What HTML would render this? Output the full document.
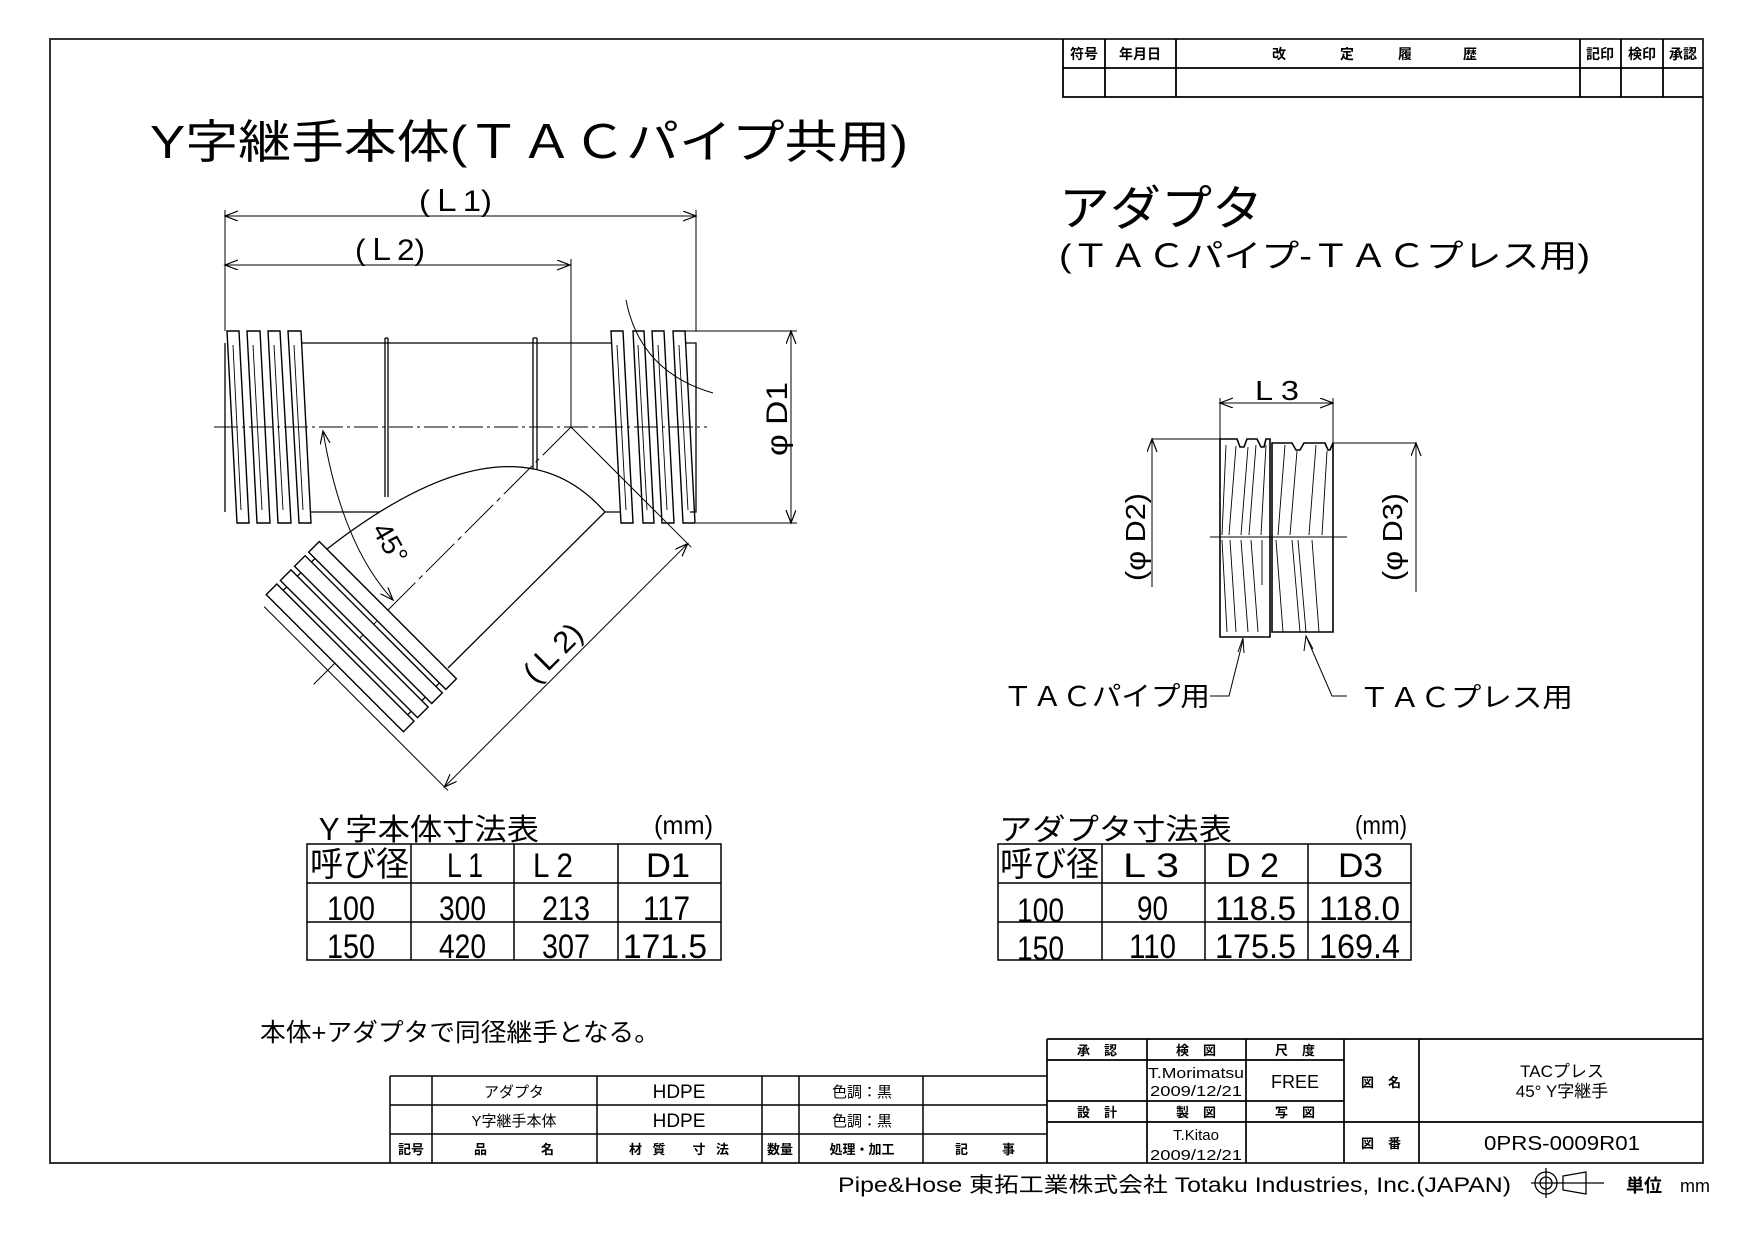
<!DOCTYPE html>
<html><head><meta charset="utf-8"><style>
html,body{margin:0;padding:0;background:#fff;}
svg{display:block;}
text{font-family:"Liberation Sans","Noto Sans CJK JP",sans-serif;fill:#000;}
</style></head><body>
<svg width="1754" height="1239" viewBox="0 0 1754 1239" xmlns="http://www.w3.org/2000/svg">
<defs>
<marker id="ar" markerUnits="userSpaceOnUse" markerWidth="16" markerHeight="12" refX="13" refY="5" orient="auto-start-reverse" viewBox="0 0 16 12">
<path d="M0,0 L13,5 L0,10" fill="none" stroke="#000" stroke-width="1.2"/>
</marker>
</defs>
<g fill="none" stroke="#000" stroke-width="1.3">
<path d="M50,39 H1703 V1163 H50 Z" stroke="#333" stroke-width="2"/>
<path d="M1063,39 V97 H1703 M1063,68 H1703 M1105,39 V97 M1176,39 V97 M1580,39 V97 M1621,39 V97 M1663,39 V97" stroke-width="1.8"/>

<line x1="225" y1="216" x2="696" y2="216" marker-start="url(#ar)" marker-end="url(#ar)" stroke-width="1"/>
<line x1="225" y1="265" x2="570" y2="265" marker-start="url(#ar)" marker-end="url(#ar)" stroke-width="1"/>
<path d="M225,210 V331 M571,259 V427 M696,210 V331" stroke-width="1"/>
<path d="M685,331 H797 M696,523 H797" stroke-width="1"/>
<line x1="791" y1="331" x2="791" y2="523" marker-start="url(#ar)" marker-end="url(#ar)" stroke-width="1"/>

<path d="M225,343 V512 M301,343 H611 M311,512 H621 M685,343 H696 V512 H690"/>
<path d="M385,338 V497 M388,338 V497 M385,338 H388 M533,338 V473 M537,338 V473 M533,338 H537"/>
<g stroke-width="1.4">
<polygon points="227,331 239,331 249,523 237,523"/>
<polygon points="247,331 260,331 270,523 257,523"/>
<polygon points="268,331 280,331 291,523 278,523"/>
<polygon points="288,331 301,331 311,523 299,523"/>
<polygon points="611,331 623,331 633,523 621,523"/>
<polygon points="633,331 644,331 654,523 643,523"/>
<polygon points="652,331 664,331 674,523 662,523"/>
<polygon points="673,331 685,331 695,523 683,523"/>
</g>
<path d="M233,345 L241,510 M253,345 L262,510 M274,345 L283,510 M294,345 L303,510 M617,345 L626,510 M638,345 L647,510 M658,345 L667,510 M679,345 L688,510" stroke-width="0.9"/>
<path d="M626,300 Q640,372 713,393" stroke-width="1"/>
<line x1="214" y1="427" x2="707" y2="427" stroke-dasharray="24,4,3,4" stroke-width="1"/>

<path d="M322,553 Q510,404 605,512 L448,668 L322,553 Z" fill="#fff" stroke="none"/>
<path d="M322,553 Q510,404 605,512 L448,668"/>
<g transform="translate(571,427) rotate(45)">
<line x1="0" y1="0" x2="0" y2="364" stroke-dasharray="40,5,5,5" stroke-width="1"/>
<line x1="-90" y1="344" x2="170" y2="344" stroke-width="1"/>
<line x1="0" y1="0" x2="170" y2="0" stroke-width="1"/>
<line x1="165" y1="0" x2="165" y2="344" marker-start="url(#ar)" marker-end="url(#ar)" stroke-width="1"/>
<g fill="#fff" stroke-width="1.4">
<rect x="-97" y="259" width="194" height="15"/>
<rect x="-97" y="279" width="194" height="15"/>
<rect x="-97" y="299" width="194" height="15"/>
<rect x="-97" y="319" width="194" height="15"/>
</g>
<path d="M-88,274 V279 M-88,294 V299 M-88,314 V319 M88,274 V279 M88,294 V299 M88,314 V319"/>
</g>
<path d="M323,431 Q342,545 393,600" marker-start="url(#ar)" marker-end="url(#ar)" stroke-width="1"/>

<line x1="1220" y1="403" x2="1333" y2="403" marker-start="url(#ar)" marker-end="url(#ar)" stroke-width="1"/>
<path d="M1220,398 V439 M1333,398 V443" stroke-width="1"/>
<path d="M1152,439 H1220 M1333,443 H1416" stroke-width="1"/>
<line x1="1152" y1="587" x2="1152" y2="439" marker-end="url(#ar)" stroke-width="1"/>
<line x1="1416" y1="592" x2="1416" y2="443" marker-end="url(#ar)" stroke-width="1"/>
<path d="M1220,439 H1237 L1240,447 L1244,447 L1247,439 H1257 L1261,447 L1264,447 L1266,439 H1270 V637 H1220 Z" stroke-width="1.6"/>
<path d="M1272,443 H1292 L1296,450 L1300,450 L1304,443 H1325 L1328,450 L1330,450 L1333,443 V632 H1272 Z" stroke-width="1.6"/>
<path d="M1210,537 H1347" stroke-width="1"/>
<path d="M1226,445 L1222,535 M1236,446 L1229,535 M1248,447 L1241,535 M1256,445 L1249,535 M1266,445 L1261,535 M1285,445 L1278,535 M1297,451 L1290,535 M1316,445 L1309,535 M1327,451 L1322,535" stroke-width="0.9"/>
<path d="M1222,540 L1227,632 M1230,540 L1236,632 M1241,540 L1248,632 M1251,540 L1258,632 M1262,540 L1262,585 M1276,540 L1283,632 M1292,540 L1300,632 M1298,540 L1306,632 M1312,540 L1319,632" stroke-width="0.9"/>
<path d="M1210,696 H1229 L1243,640" stroke-width="1"/>
<path d="M1347,696 H1332 L1306,636" stroke-width="1"/>

<path d="M307,844 H721 V960 H307 Z M307,883 H721 M307,922 H721 M411,844 V960 M514,844 V960 M618,844 V960" stroke-width="1.5"/>
<path d="M998,844 H1411 V960 H998 Z M998,883 H1411 M998,922 H1411 M1102,844 V960 M1205,844 V960 M1308,844 V960" stroke-width="1.5"/>

<path d="M390,1076 H1047 M390,1105 H1047 M390,1134 H1047 M390,1076 V1163 M432,1076 V1163 M597,1076 V1163 M762,1076 V1163 M799,1076 V1163 M923,1076 V1163" stroke-width="1.5"/>
<path d="M1047,1039 H1703 M1047,1039 V1163 M1147,1039 V1163 M1246,1039 V1163 M1344,1039 V1163 M1419,1039 V1163 M1047,1060 H1344 M1047,1101 H1344 M1047,1122 H1703" stroke-width="1.7"/>
<circle cx="1546" cy="1183" r="11" stroke-width="1.3"/>
<circle cx="1546" cy="1183" r="6" stroke-width="1.3"/>
<path d="M1531,1183 H1604 M1546,1168 V1198 M1563,1176 L1586,1172 V1194 L1563,1190 Z" stroke-width="1.3"/>
</g>

<path d="M1238,652 L1243,638 L1244,653" fill="none" stroke="#000" stroke-width="1"/>
<path d="M1304,651 L1306,636 L1313,649" fill="none" stroke="#000" stroke-width="1"/>

<g font-size="14" font-weight="bold">
<text x="1084" y="59" text-anchor="middle">符号</text>
<text x="1140" y="59" text-anchor="middle">年月日</text>
<text x="1279" y="59" text-anchor="middle">改</text>
<text x="1347" y="59" text-anchor="middle">定</text>
<text x="1405" y="59" text-anchor="middle">履</text>
<text x="1470" y="59" text-anchor="middle">歴</text>
<text x="1600" y="59" text-anchor="middle">記印</text>
<text x="1642" y="59" text-anchor="middle">検印</text>
<text x="1683" y="59" text-anchor="middle">承認</text>
</g>

<text x="150" y="158" font-size="46" textLength="758" lengthAdjust="spacingAndGlyphs">Y字継手本体(ＴＡＣパイプ共用)</text>
<text x="419" y="211" font-size="30" textLength="73" lengthAdjust="spacingAndGlyphs">(Ｌ1)</text>
<text x="355" y="260" font-size="30" textLength="70" lengthAdjust="spacingAndGlyphs">(Ｌ2)</text>
<text transform="translate(787,419) rotate(-90)" font-size="30" text-anchor="middle" textLength="74" lengthAdjust="spacingAndGlyphs">φ D1</text>
<text transform="translate(382,548) rotate(60)" font-size="28" text-anchor="middle">45°</text>
<text transform="translate(560,660) rotate(-45)" font-size="30" text-anchor="middle" textLength="70" lengthAdjust="spacingAndGlyphs">(Ｌ2)</text>

<text x="1059" y="225" font-size="48" textLength="204" lengthAdjust="spacingAndGlyphs">アダプタ</text>
<text x="1059" y="267" font-size="32" textLength="531" lengthAdjust="spacingAndGlyphs">(ＴＡＣパイプ-ＴＡＣプレス用)</text>
<text x="1277" y="400" font-size="28" text-anchor="middle" textLength="44" lengthAdjust="spacingAndGlyphs">L 3</text>
<text transform="translate(1145,537) rotate(-90)" font-size="28" text-anchor="middle" textLength="88" lengthAdjust="spacingAndGlyphs">(φ D2)</text>
<text transform="translate(1402,537) rotate(-90)" font-size="28" text-anchor="middle" textLength="88" lengthAdjust="spacingAndGlyphs">(φ D3)</text>
<text x="1003" y="706" font-size="27" textLength="207" lengthAdjust="spacingAndGlyphs">ＴＡＣパイプ用</text>
<text x="1359" y="707" font-size="27" textLength="214" lengthAdjust="spacingAndGlyphs">ＴＡＣプレス用</text>

<text x="313" y="840" font-size="30" textLength="226" lengthAdjust="spacingAndGlyphs">Ｙ字本体寸法表</text>
<text x="654" y="834" font-size="26" textLength="59" lengthAdjust="spacingAndGlyphs">(mm)</text>
<text x="999" y="840" font-size="30" textLength="233" lengthAdjust="spacingAndGlyphs">アダプタ寸法表</text>
<text x="1355" y="834" font-size="26" textLength="52" lengthAdjust="spacingAndGlyphs">(mm)</text>

<g font-size="34">
<text x="310" y="876" textLength="99" lengthAdjust="spacingAndGlyphs">呼び径</text>
<text x="447" y="877" textLength="36" lengthAdjust="spacingAndGlyphs">L 1</text>
<text x="533" y="877" textLength="40" lengthAdjust="spacingAndGlyphs">L 2</text>
<text x="646" y="877" textLength="44" lengthAdjust="spacingAndGlyphs">D1</text>
<text x="327" y="920" textLength="48" lengthAdjust="spacingAndGlyphs">100</text>
<text x="439" y="920" textLength="47" lengthAdjust="spacingAndGlyphs">300</text>
<text x="542" y="920" textLength="48" lengthAdjust="spacingAndGlyphs">213</text>
<text x="643" y="920" textLength="47" lengthAdjust="spacingAndGlyphs">117</text>
<text x="327" y="958" textLength="48" lengthAdjust="spacingAndGlyphs">150</text>
<text x="439" y="958" textLength="47" lengthAdjust="spacingAndGlyphs">420</text>
<text x="542" y="958" textLength="48" lengthAdjust="spacingAndGlyphs">307</text>
<text x="623" y="958" textLength="84" lengthAdjust="spacingAndGlyphs">171.5</text>

<text x="1000" y="876" textLength="99" lengthAdjust="spacingAndGlyphs">呼び径</text>
<text x="1123" y="877" textLength="56" lengthAdjust="spacingAndGlyphs">L 3</text>
<text x="1226" y="877" textLength="53" lengthAdjust="spacingAndGlyphs">D 2</text>
<text x="1338" y="877" textLength="45" lengthAdjust="spacingAndGlyphs">D3</text>
<text x="1017" y="922" textLength="47" lengthAdjust="spacingAndGlyphs">100</text>
<text x="1137" y="920" textLength="31" lengthAdjust="spacingAndGlyphs">90</text>
<text x="1215" y="920" textLength="81" lengthAdjust="spacingAndGlyphs">118.5</text>
<text x="1319" y="920" textLength="81" lengthAdjust="spacingAndGlyphs">118.0</text>
<text x="1017" y="960" textLength="47" lengthAdjust="spacingAndGlyphs">150</text>
<text x="1129" y="958" textLength="47" lengthAdjust="spacingAndGlyphs">110</text>
<text x="1215" y="958" textLength="81" lengthAdjust="spacingAndGlyphs">175.5</text>
<text x="1319" y="958" textLength="81" lengthAdjust="spacingAndGlyphs">169.4</text>
</g>

<text x="260" y="1041" font-size="25" textLength="400" lengthAdjust="spacingAndGlyphs">本体+アダプタで同径継手となる。</text>

<g font-size="15" text-anchor="middle">
<text x="514" y="1097">アダプタ</text>
<text x="679" y="1098" font-size="19">HDPE</text>
<text x="862" y="1097">色調：黒</text>
<text x="514" y="1126">Y字継手本体</text>
<text x="679" y="1127" font-size="19">HDPE</text>
<text x="862" y="1126">色調：黒</text>
<g font-weight="bold" font-size="13">
<text x="411" y="1154">記号</text>
<text x="514" y="1154" textLength="80">品　　　名</text>
<text x="679" y="1154" textLength="100">材 質　 寸 法</text>
<text x="780" y="1154">数量</text>
<text x="862" y="1154">処理・加工</text>
<text x="985" y="1154" textLength="60">記　　事</text>
<text x="1097" y="1055" textLength="40">承　認</text>
<text x="1196" y="1055" textLength="40">検　図</text>
<text x="1295" y="1055" textLength="40">尺　度</text>
<text x="1097" y="1117" textLength="40">設　計</text>
<text x="1196" y="1117" textLength="40">製　図</text>
<text x="1295" y="1117" textLength="40">写　図</text>
<text x="1381" y="1087" textLength="40">図　名</text>
<text x="1381" y="1148" textLength="40">図　番</text>
</g>
<text x="1196" y="1078" textLength="96" lengthAdjust="spacingAndGlyphs">T.Morimatsu</text>
<text x="1196" y="1096" textLength="92" lengthAdjust="spacingAndGlyphs">2009/12/21</text>
<text x="1295" y="1088" font-size="18">FREE</text>
<text x="1196" y="1140">T.Kitao</text>
<text x="1196" y="1160" textLength="92" lengthAdjust="spacingAndGlyphs">2009/12/21</text>
<text x="1562" y="1077" font-size="17">TACプレス</text>
<text x="1562" y="1097" font-size="17">45° Y字継手</text>
<text x="1562" y="1150" font-size="20" textLength="156" lengthAdjust="spacingAndGlyphs">0PRS-0009R01</text>
</g>

<text x="838" y="1192" font-size="21" textLength="673" lengthAdjust="spacingAndGlyphs">Pipe&amp;Hose 東拓工業株式会社 Totaku Industries, Inc.(JAPAN)</text>
<text x="1626" y="1192" font-size="18" font-weight="bold">単位</text>
<text x="1680" y="1192" font-size="18">mm</text>
</svg>
</body></html>
